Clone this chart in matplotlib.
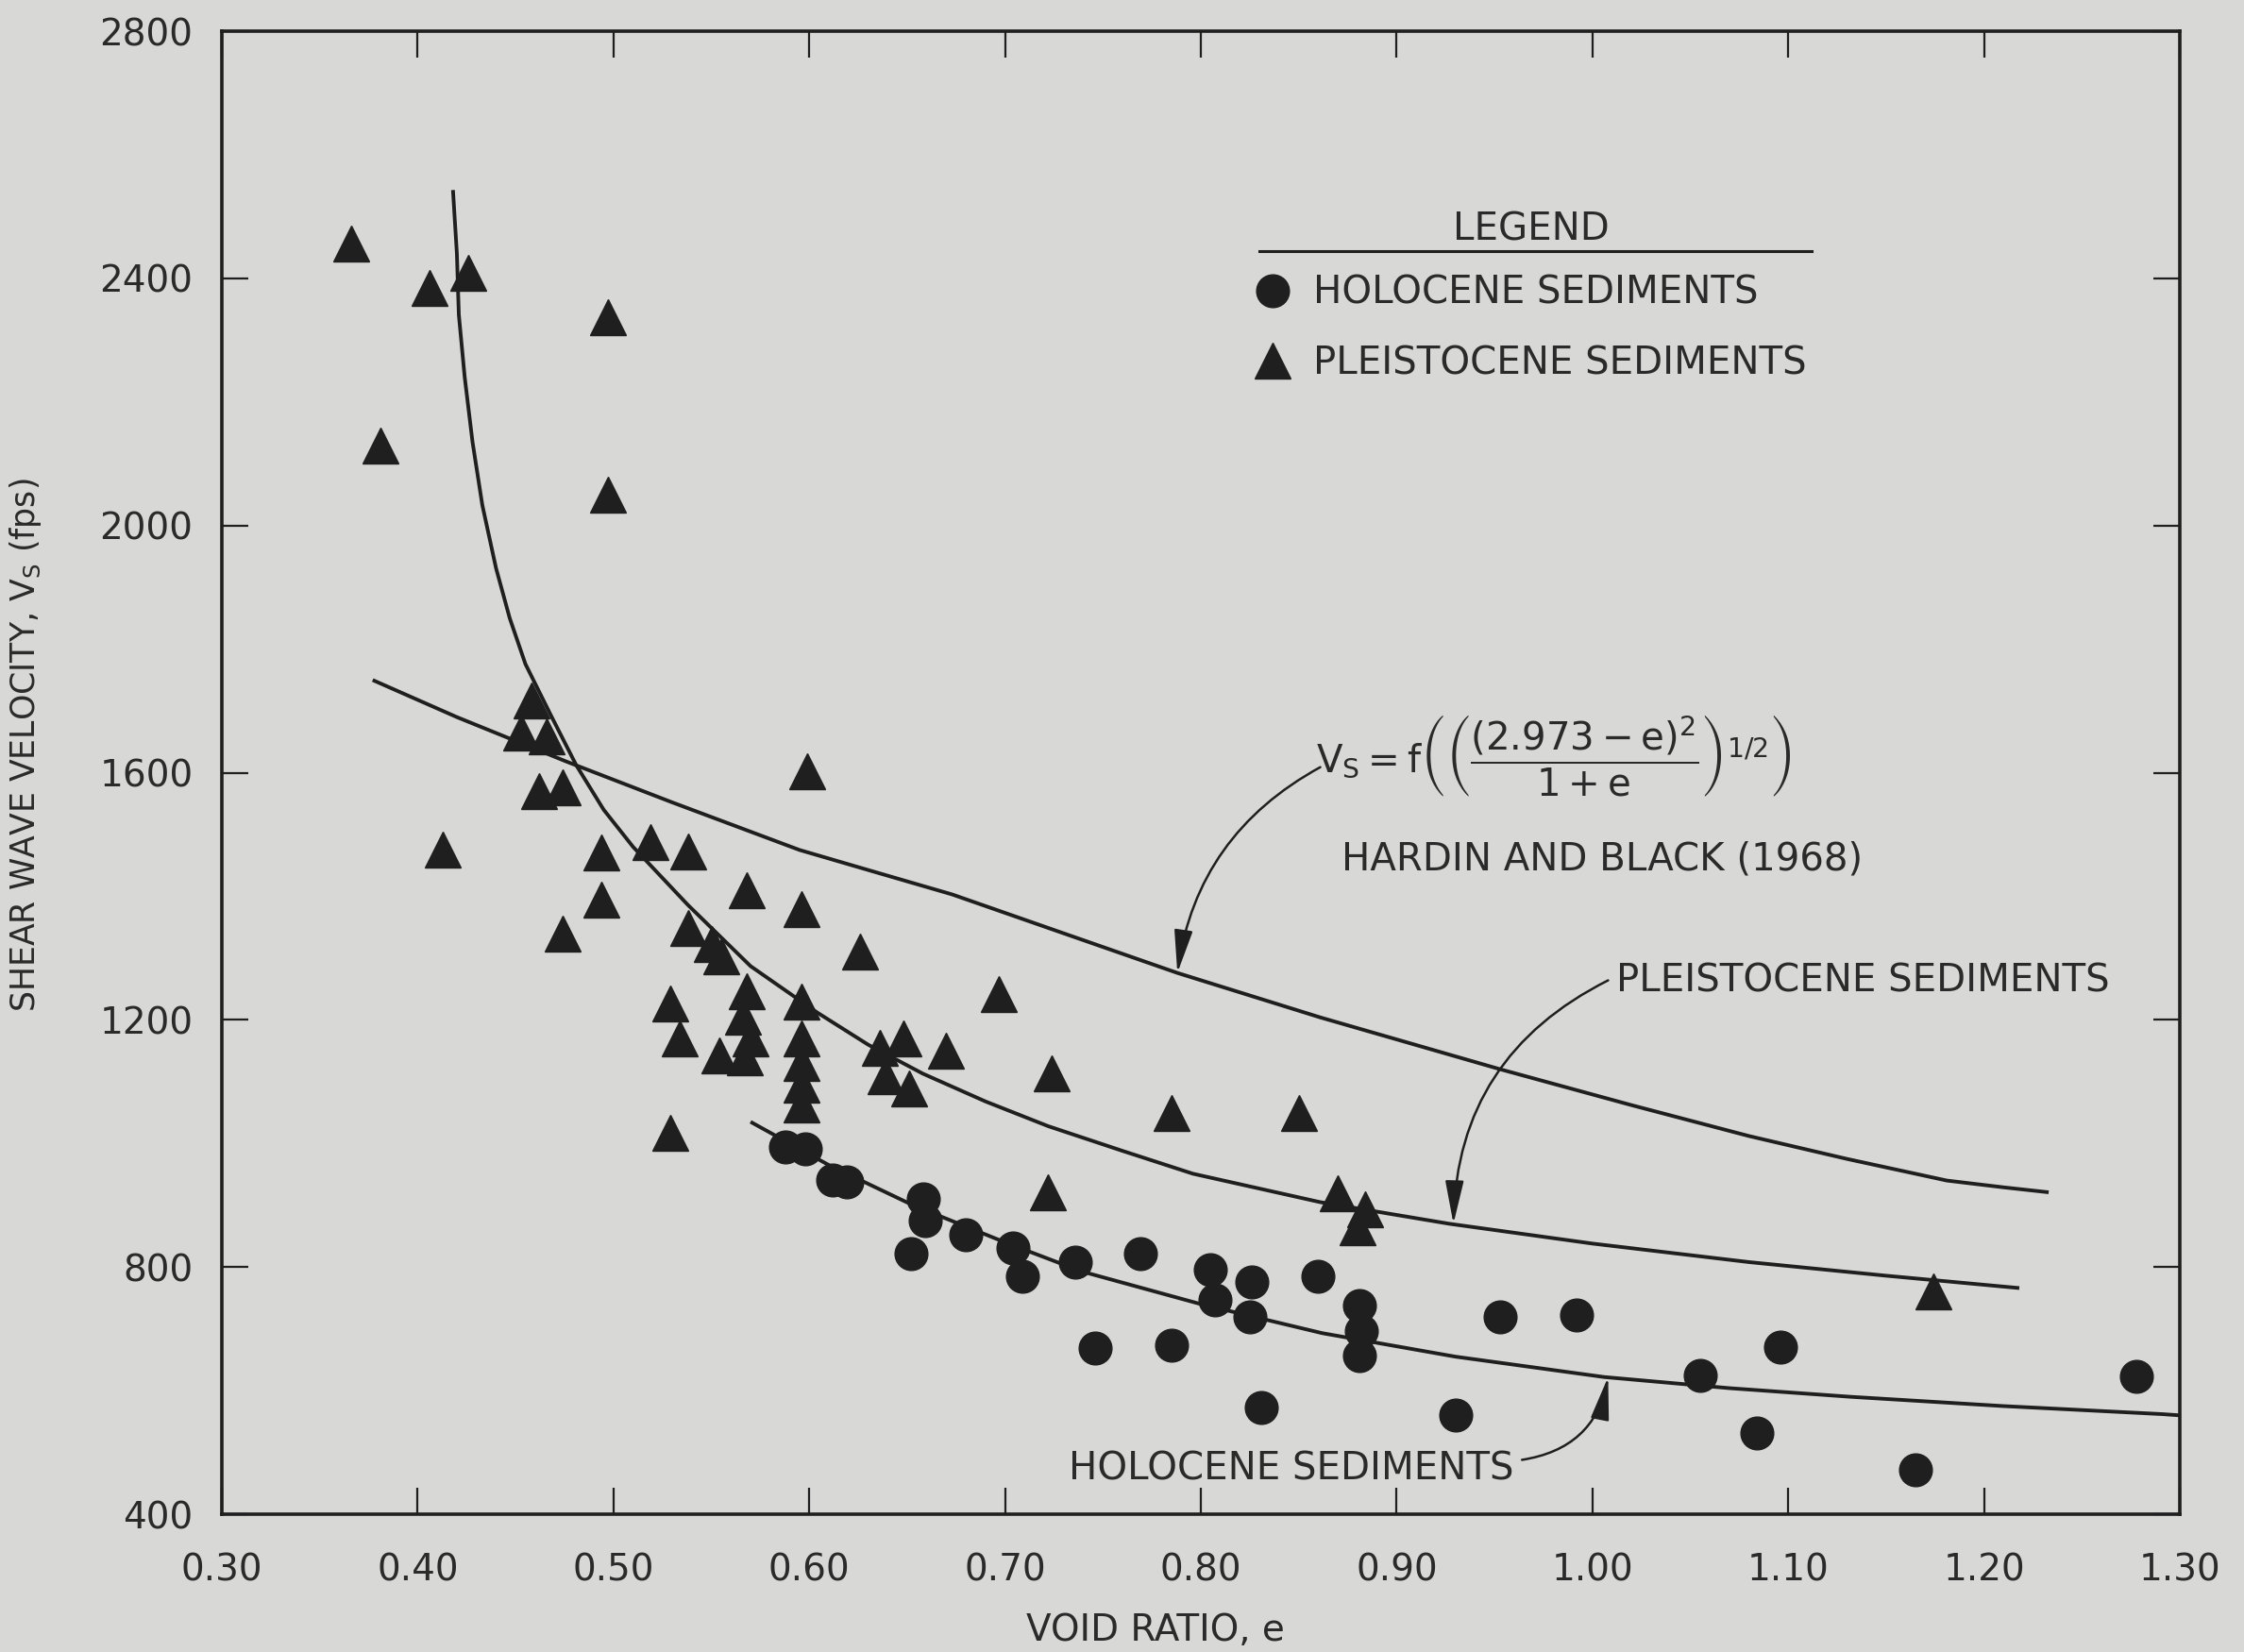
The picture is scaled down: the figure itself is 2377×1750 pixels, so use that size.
import matplotlib
matplotlib.use('Agg')
import matplotlib.pyplot as plt
from matplotlib.lines import Line2D

# void ratio e and shear wave velocity Vs (fps), Holocene sediments
holo_e = [0.588, 0.598, 0.612, 0.619, 0.658, 0.659, 0.652, 0.680, 0.704, 0.709,
          0.736, 0.769, 0.746, 0.785, 0.805, 0.807, 0.825, 0.826, 0.831, 0.860,
          0.881, 0.882, 0.881, 0.953, 0.992, 0.930, 1.055, 1.096, 1.084, 1.165,
          1.278]
holo_vs = [994, 991, 941, 938, 910, 875, 822, 852, 831, 785,
           808, 822, 669, 673, 796, 747, 719, 776, 573, 785,
           738, 696, 657, 719, 722, 560, 625, 670, 531, 472,
           623]

# Pleistocene sediments
pleis_e = [0.366, 0.406, 0.426, 0.497, 0.381, 0.497, 0.458, 0.453, 0.466, 0.462,
           0.474, 0.413, 0.494, 0.519, 0.538, 0.599, 0.494, 0.568, 0.596, 0.474,
           0.538, 0.550, 0.555, 0.626, 0.529, 0.534, 0.529, 0.568, 0.566, 0.570,
           0.567, 0.554, 0.596, 0.596, 0.596, 0.596, 0.596, 0.697, 0.636, 0.648,
           0.670, 0.639, 0.651, 0.724, 0.722, 0.785, 0.850, 0.870, 0.884, 0.880,
           1.174]
pleis_vs = [2456, 2384, 2409, 2337, 2129, 2050, 1717, 1665, 1659, 1570,
            1576, 1475, 1471, 1488, 1472, 1602, 1394, 1410, 1379, 1340,
            1349, 1323, 1303, 1310, 1226, 1170, 1017, 1246, 1205, 1170,
            1139, 1142, 1230, 1170, 1130, 1095, 1063, 1242, 1155, 1170,
            1150, 1109, 1089, 1113, 921, 1050, 1050, 919, 893, 864,
            760]

# Hardin and Black (1968) relation
hb_e = [0.377, 0.420, 0.476, 0.530, 0.595, 0.635, 0.673, 0.730, 0.788, 0.861,
        0.953, 1.020, 1.080, 1.130, 1.181, 1.210, 1.233]
hb_vs = [1750, 1690, 1618, 1552, 1475, 1438, 1403, 1340, 1276, 1204,
         1120, 1062, 1012, 975, 940, 929, 921]

# fitted trend, Pleistocene
pl_e = [0.418, 0.420, 0.421, 0.424, 0.428, 0.433, 0.440, 0.447, 0.455, 0.468,
        0.481, 0.495, 0.510, 0.538, 0.570, 0.604, 0.630, 0.658, 0.690, 0.722,
        0.760, 0.796, 0.861, 0.927, 1.000, 1.080, 1.150, 1.218]
pl_vs = [2543, 2440, 2341, 2240, 2135, 2033, 1931, 1850, 1776, 1693,
         1612, 1540, 1480, 1386, 1287, 1212, 1160, 1113, 1068, 1028,
         988, 951, 905, 870, 838, 808, 786, 766]

# fitted trend, Holocene
ho_e = [0.570, 0.610, 0.653, 0.700, 0.739, 0.800, 0.862, 0.930, 1.006, 1.070,
        1.132, 1.210, 1.291, 1.300]
ho_vs = [1035, 965, 900, 840, 793, 740, 693, 655, 622, 604,
         590, 575, 562, 560]

xticks = [0.30, 0.40, 0.50, 0.60, 0.70, 0.80, 0.90, 1.00, 1.10, 1.20, 1.30]
xtick_labels = ['0.30', '0.40', '0.50', '0.60', '0.70', '0.80', '0.90',
                '1.00', '1.10', '1.20', '1.30']
yticks = [400, 800, 1200, 1600, 2000, 2400, 2800]

paper = '#d8d8d6'
ink = '#1f1f1f'
txt = '#2a2a2a'
fs = 29

plt.rcParams['font.family'] = ['DejaVu Sans']
plt.rcParams['mathtext.default'] = 'regular'

fig = plt.figure(figsize=(23.77, 17.5), dpi=100, facecolor=paper)
ax = fig.add_axes([0.0989, 0.0834, 0.8725, 0.8977], facecolor=paper)

# trend curves
for ce, cv in [(hb_e, hb_vs), (pl_e, pl_vs), (ho_e, ho_vs)]:
    ax.plot(ce, cv, color=ink, lw=2.8, solid_joinstyle='round',
            solid_capstyle='butt', zorder=2)

# data points
ax.plot(holo_e, holo_vs, 'o', ms=25, color=ink, mec=ink, zorder=3)
ax.plot(pleis_e, pleis_vs, '^', ms=27, color=ink, mec=ink, zorder=3)

ax.set_xlim(0.30, 1.30)
ax.set_ylim(400, 2800)
ax.set_xticks(xticks)
ax.set_xticklabels(xtick_labels)
ax.set_yticks(yticks)

for sp in ax.spines.values():
    sp.set_linewidth(2.6)
    sp.set_color(ink)

ax.tick_params(axis='both', direction='in', length=20, width=1.6, color=ink,
               labelsize=28, labelcolor=txt, top=True, right=True)
ax.tick_params(axis='x', pad=29)
ax.tick_params(axis='y', pad=22)

ax.set_xlabel('VOID RATIO, e', fontsize=28, color=txt)
ax.set_ylabel('SHEAR WAVE VELOCITY, V$_\\mathregular{S}$ (fps)', fontsize=25,
              color=txt)
ax.xaxis.set_label_coords(0.477, -0.066)
ax.yaxis.set_label_coords(-0.091, 0.519)

# legend block
handles = [Line2D([], [], marker='o', ls='none', ms=25, color=ink),
           Line2D([], [], marker='^', ls='none', ms=27, color=ink)]
leg = ax.legend(handles, ['HOLOCENE SEDIMENTS', 'PLEISTOCENE SEDIMENTS'],
                title='LEGEND', loc='upper left', bbox_to_anchor=(0.528, 0.879),
                frameon=False, fontsize=fs, title_fontsize=fs, handlelength=0.9,
                handletextpad=0.6, labelspacing=0.85, borderpad=0, borderaxespad=0)
for t in leg.get_texts():
    t.set_color(txt)
leg.get_title().set_color(txt)
leg._legend_box.sep = 20
ax.add_line(Line2D([0.530, 0.812], [0.852, 0.852], transform=ax.transAxes,
                   color=ink, lw=2.2))

# curve labels
ax.text(0.980, 1628,
        r'$V_S=f\left(\left(\dfrac{(2.973-e)^2}{1+e}\right)^{1/2}\right)$',
        fontsize=fs, color=txt, ha='center', va='center')
ax.text(1.005, 1460, 'HARDIN AND BLACK (1968)', fontsize=fs, color=txt,
        ha='center', va='center')
ax.text(1.012, 1262, 'PLEISTOCENE SEDIMENTS', fontsize=fs, color=txt,
        ha='left', va='center')
ax.text(0.960, 472, 'HOLOCENE SEDIMENTS', fontsize=fs, color=txt,
        ha='right', va='center')

arrow = dict(arrowstyle='-|>,head_length=1.4,head_width=0.3', color=ink, lw=1.8,
             shrinkA=0, shrinkB=0, mutation_scale=20)
ax.annotate('', xy=(0.788, 1276), xytext=(0.861, 1609),
            arrowprops=dict(arrow, connectionstyle='arc3,rad=0.25'))
ax.annotate('', xy=(0.929, 870), xytext=(1.008, 1264),
            arrowprops=dict(arrow, connectionstyle='arc3,rad=0.3'))
ax.annotate('', xy=(1.008, 622), xytext=(0.964, 488),
            arrowprops=dict(arrow, connectionstyle='arc3,rad=0.35'))

fig.savefig('out.png', dpi=100, facecolor=paper)
